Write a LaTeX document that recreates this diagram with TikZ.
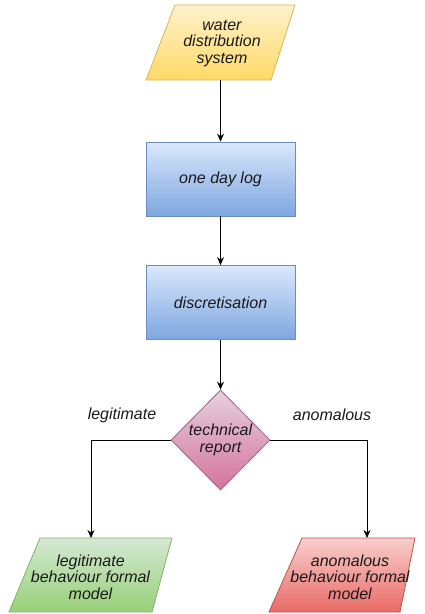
\documentclass[tikz,border=0pt]{standalone}
\usepackage{fontspec}
\setmainfont{Liberation Sans}
\usetikzlibrary{shapes.geometric,arrows.meta}
\definecolor{yelTop}{HTML}{FFF2CC}
\definecolor{yelBot}{HTML}{FFD966}
\definecolor{yelLine}{HTML}{D6B656}
\definecolor{bluTop}{HTML}{DAE8FC}
\definecolor{bluBot}{HTML}{7EA6E0}
\definecolor{bluLine}{HTML}{6C8EBF}
\definecolor{pnkTop}{HTML}{E6D0DE}
\definecolor{pnkBot}{HTML}{D5739D}
\definecolor{pnkLine}{HTML}{996185}
\definecolor{grnTop}{HTML}{D5E8D4}
\definecolor{grnBot}{HTML}{97D077}
\definecolor{grnLine}{HTML}{82B366}
\definecolor{redTop}{HTML}{F8CECC}
\definecolor{redBot}{HTML}{EA6B66}
\definecolor{redLine}{HTML}{B85450}
\definecolor{txtCol}{HTML}{1A1A1A}
\tikzset{
  txt/.style={font=\fontsize{16}{16.5}\selectfont\itshape, text=txtCol, align=center},
  shapeline/.style={line width=0.8pt},
  procbox/.style={txt, rectangle, minimum width=149pt, minimum height=74pt, inner sep=0pt, line width=0.8pt,
    draw=bluLine, top color=bluTop, bottom color=bluBot},
  decide/.style={txt, diamond, aspect=1, minimum width=99pt, minimum height=100pt, inner sep=0pt, line width=0.8pt,
    draw=pnkLine, top color=pnkTop, bottom color=pnkBot},
  arr/.style={line width=1pt, -{Stealth[length=8pt,width=7pt]}},
  lbl/.style={txt}
}
\begin{document}
\begin{tikzpicture}[x=1pt,y=-1pt]
\useasboundingbox (0,0) rectangle (424,614);
\begin{scope}
\clip (0,0) rectangle (424,614);
% parallelogram outlines
\path[shapeline, draw=yelLine, top color=yelTop, bottom color=yelBot]
  (175,5) -- (295,5) -- (271,80) -- (146,80) -- cycle;
\path[shapeline, draw=grnLine, top color=grnTop, bottom color=grnBot]
  (40,538) -- (172,538) -- (152,612) -- (9,612) -- cycle;
\path[shapeline, draw=redLine, top color=redTop, bottom color=redBot]
  (302,538) -- (415,538) -- (400,612) -- (269,612) -- cycle;
\end{scope}
\node[txt] (wds) at (222,43) {water\\distribution\\system};
\node[procbox] (log) at (220.5,179) {one day log};
\node[procbox] (disc) at (220.5,302.5) {discretisation};
\node[decide] (rep) at (220.5,440) {technical\\report};
\node[txt] (leg) at (90.5,577) {legitimate\\behaviour formal\\model};
\node[txt] (ano) at (350,577) {anomalous\\behaviour formal\\model};
\coordinate (wdsout) at (220.5,80);
\coordinate (legin) at (91,538);
\coordinate (anoin) at (367,538);
\node[lbl] (llab) at (122,415) {legitimate};
\node[lbl] (alab) at (332,415) {anomalous};
\draw[arr] (wdsout) -- (log.north);
\draw[arr] (log) -- (disc);
\draw[arr] (disc) -- (rep);
\draw[arr] (rep.west) -| (legin);
\draw[arr] (rep.east) -| (anoin);
\end{tikzpicture}
\end{document}
